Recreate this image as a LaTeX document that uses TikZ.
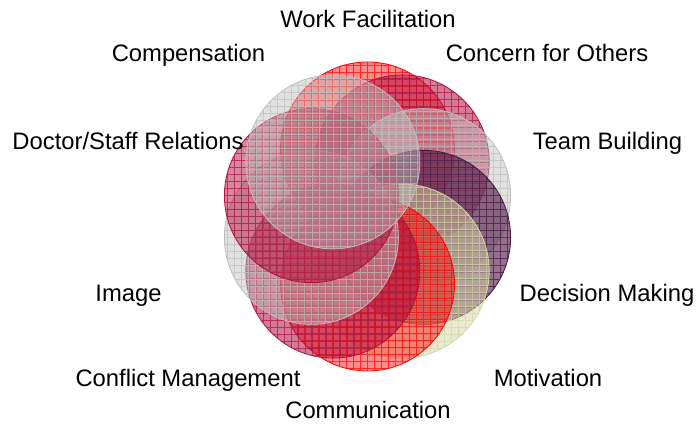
\documentclass[tikz,border=0pt]{standalone}
\usepackage{fontspec}
\setmainfont{Liberation Sans}
\definecolor{cred}{HTML}{FF0000}
\definecolor{ccrim}{HTML}{B0103E}
\definecolor{cgray}{HTML}{BEBEBE}
\definecolor{cpurp}{HTML}{4A1442}
\definecolor{ckhaki}{HTML}{D6D6A4}
\tikzset{
  ring/.style 2 args={circle, minimum size=174pt, inner sep=0pt, line width=0.8pt,
    draw=#1, fill=#1, fill opacity=#2,
    path picture={\draw[#1, line width=0.5pt, draw opacity=0.7, step=7pt]
      (path picture bounding box.south west) grid (path picture bounding box.north east);}},
  lab/.style={font=\fontsize{23.8}{28}\selectfont, anchor=base, inner sep=0pt, text=black}
}
\begin{document}
\begin{tikzpicture}[x=1pt,y=1pt]
\fill[white] (0,0) rectangle (698,425);
\useasboundingbox (0,0) rectangle (698,425);
\def\cx{367.5}\def\cy{208.5}\def\rx{59}\def\ry{67.5}
\node[ring={cred}{0.45}]   (wf)  at ({\cx+\rx*cos(90)},{\cy+\ry*sin(90)}) {};
\node[ring={ccrim}{0.55}]  (co)  at ({\cx+\rx*cos(54)},{\cy+\ry*sin(54)}) {};
\node[ring={cgray}{0.45}]  (tb)  at ({\cx+\rx*cos(18)},{\cy+\ry*sin(18)}) {};
\node[ring={cpurp}{0.6}]   (dm)  at ({\cx+\rx*cos(-18)},{\cy+\ry*sin(-18)}) {};
\node[ring={ckhaki}{0.5}]  (mo)  at ({\cx+\rx*cos(-54)},{\cy+\ry*sin(-54)}) {};
\node[ring={cred}{0.45}]   (cm)  at ({\cx+\rx*cos(-90)},{\cy+\ry*sin(-90)}) {};
\node[ring={ccrim}{0.55}]  (cf)  at ({\cx+\rx*cos(-126)},{\cy+\ry*sin(-126)}) {};
\node[ring={cgray}{0.45}]  (im)  at ({\cx+\rx*cos(198)},{\cy+\ry*sin(198)}) {};
\node[ring={ccrim}{0.5}]   (ds)  at ({\cx+\rx*cos(162)},{\cy+\ry*sin(162)}) {};
\node[ring={cgray}{0.45}]  (cp)  at ({\cx+\rx*cos(126)},{\cy+\ry*sin(126)}) {};
\node[lab] (lwf) at (368,397) {Work Facilitation};
\node[lab] (lco) at (547,363) {Concern for Others};
\node[lab] (lcp) at (188.5,363) {Compensation};
\node[lab] (ltb) at (607.5,275) {Team Building};
\node[lab] (lds) at (128,275) {Doctor/Staff Relations};
\node[lab] (ldm) at (607,123) {Decision Making};
\node[lab] (lim) at (128.5,123) {Image};
\node[lab] (lmo) at (548,38) {Motivation};
\node[lab] (lcf) at (188,38) {Conflict Management};
\node[lab] (lcm) at (368,6) {Communication};
\end{tikzpicture}
\end{document}
